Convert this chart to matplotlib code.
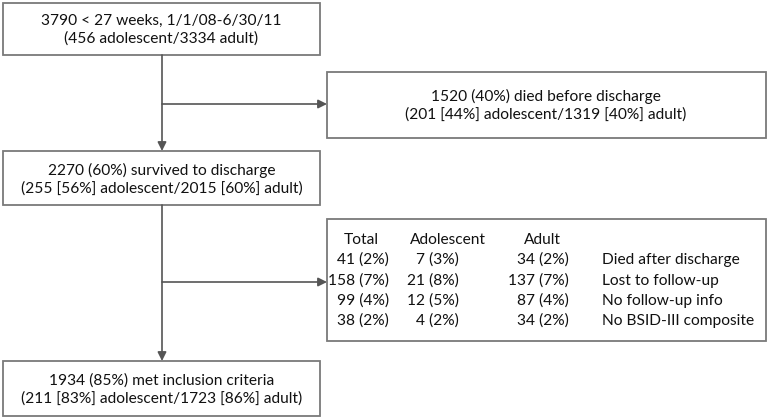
import matplotlib
matplotlib.use('Agg')
from matplotlib import pyplot as plt
from matplotlib.patches import Rectangle

plt.rcParams['font.family'] = ['Lato', 'DejaVu Sans']

# flow boxes (main column)
main_text = [
    '3790 < 27 weeks, 1/1/08-6/30/11\n(456 adolescent/3334 adult)',
    '2270 (60%) survived to discharge\n(255 [56%] adolescent/2015 [60%] adult)',
    '1934 (85%) met inclusion criteria\n(211 [83%] adolescent/1723 [86%] adult)',
]
died_text = '1520 (40%) died before discharge\n(201 [44%] adolescent/1319 [40%] adult)'

# exclusion table
col_heads = ['Total', 'Adolescent', 'Adult']
totals = ['41 (2%)', '158 (7%)', '99 (4%)', '38 (2%)']
adolescent = ['7 (3%)', '21 (8%)', '12 (5%)', '4 (2%)']
adult = ['34 (2%)', '137 (7%)', '87 (4%)', '34 (2%)']
reasons = ['Died after discharge', 'Lost to follow-up', 'No follow-up info', 'No BSID-III composite']

fsize = 11.2
edge = '#7a7a7a'
line_c = '#555555'
txt_c = '#111111'

fig = plt.figure(figsize=(7.68, 4.19), dpi=100)
ax = fig.add_axes([0, 0, 1, 1])
ax.set_xlim(0, 768)
ax.set_ylim(419, 0)
ax.axis('off')

def box(x0, y0, x1, y1):
    ax.add_patch(Rectangle((x0, y0), x1 - x0, y1 - y0, fill=False, edgecolor=edge, linewidth=1.3))

def arrow(x0, y0, x1, y1):
    ax.annotate('', xy=(x1, y1), xytext=(x0, y0),
                arrowprops=dict(arrowstyle='-|>', color=line_c, lw=1.2, mutation_scale=13,
                                shrinkA=0, shrinkB=0))

# main column boxes
main_boxes = [(3, 3, 320, 55), (3, 151, 320, 205), (3, 361, 320, 416)]
for (x0, y0, x1, y1), t in zip(main_boxes, main_text):
    box(x0, y0, x1, y1)
    ax.text((x0 + x1) / 2, (y0 + y1) / 2 + 1, t, ha='center', va='center', fontsize=fsize,
            linespacing=1.3, color=txt_c)

cx = 162
arrow(cx, 55, cx, 151)
arrow(cx, 205, cx, 361)

# died before discharge
box(327, 72, 766, 138)
ax.text(546, 105, died_text, ha='center', va='center', fontsize=fsize, linespacing=1.3, color=txt_c)
arrow(cx, 104, 327, 104)

# exclusion table
box(327, 219, 766, 341)
arrow(cx, 282, 327, 282)
for x, h in zip([344, 410, 524], col_heads):
    ax.text(x, 240, h, ha='left', va='center', fontsize=fsize, color=txt_c)
row_y = [260, 281, 301, 321]
for y, t, a, d, r in zip(row_y, totals, adolescent, adult, reasons):
    ax.text(389, y, t, ha='right', va='center', fontsize=fsize, color=txt_c)
    ax.text(459, y, a, ha='right', va='center', fontsize=fsize, color=txt_c)
    ax.text(569, y, d, ha='right', va='center', fontsize=fsize, color=txt_c)
    ax.text(602, y, r, ha='left', va='center', fontsize=fsize, color=txt_c)

fig.savefig('out.png', dpi=100, facecolor='white')
